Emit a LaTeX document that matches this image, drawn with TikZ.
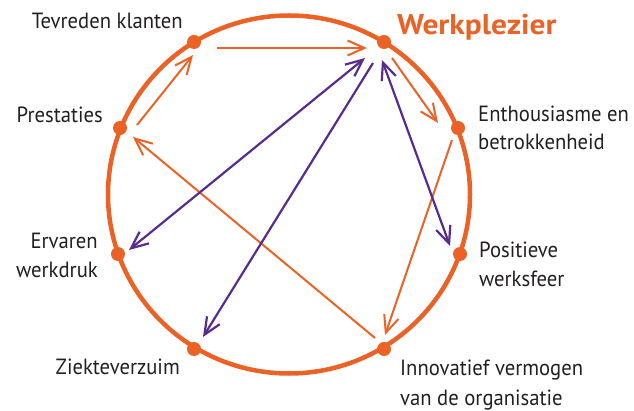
\documentclass[tikz,border=0pt]{standalone}
\usepackage{fontspec}
\setmainfont{PT Sans}[FakeStretch=0.94]
\newfontfamily\wpfont{PT Sans}[FakeStretch=1.1]
\usetikzlibrary{arrows.meta}
\definecolor{orng}{RGB}{234,98,37}
\definecolor{purp}{RGB}{88,44,140}
\definecolor{txt}{RGB}{35,31,32}
\begin{document}
\begin{tikzpicture}[x=1pt,y=-1pt,
  dot/.style={circle,fill=orng,inner sep=0pt,minimum size=14pt},
  lbl/.style={text=txt,font=\fontsize{22}{29.5}\selectfont,inner sep=0pt},
  tipa/.tip={Straight Barb[length=17pt,width=15pt]},
  oarr/.style={orng,line width=2pt,-tipa},
  parr/.style={purp,line width=2.2pt,-tipa},
  pboth/.style={purp,line width=2.2pt,tipa-tipa}
]
\useasboundingbox (0,0) rectangle (634,411);
\draw[orng,line width=4.5pt] (289,194.5) ellipse [x radius=181, y radius=179];
\node[dot] (wp)  at (384,42) {};
\node[dot] (tev) at (194,42) {};
\node[dot] (pre) at (120,128) {};
\node[dot] (ent) at (458,128) {};
\node[dot] (erv) at (118,254) {};
\node[dot] (pos) at (460,254) {};
\node[dot] (zie) at (194,349) {};
\node[dot] (inn) at (384,349) {};

\node[lbl,anchor=base east] (ltev) at (183,29) {Tevreden klanten};
\node[anchor=base west,inner sep=0pt,text=orng,font=\wpfont\fontsize{28.5}{30}\selectfont\bfseries] (lwp) at (397,35) {Werkplezier};
\node[lbl,anchor=base east] (lpre) at (103,123) {Prestaties};
\node[lbl,anchor=base west,align=left,font=\fontsize{22}{28.5}\selectfont] (lent) at (478,150) {Enthousiasme en\\betrokkenheid};
\node[lbl,anchor=base east,align=right] (lerv) at (98,278) {Ervaren\\werkdruk};
\node[lbl,anchor=base west,align=left] (lpos) at (479,287) {Positieve\\werksfeer};
\node[lbl,anchor=base east] (lzie) at (180,374) {Ziekteverzuim};
\node[lbl,anchor=base west,align=left] (linn) at (400,405) {Innovatief vermogen\\van de organisatie};

\draw[oarr] ([shift={(23,6)}]tev.center) -- ([shift={(-17,6)}]wp.center);
\draw[oarr] ([shift={(17,-3)}]pre.center) -- ([shift={(-1,13)}]tev.center);
\draw[oarr] ([shift={(8,16)}]wp.center) -- ([shift={(-20,-5)}]ent.center);
\draw[oarr] ([shift={(-6,12)}]ent.center) -- ([shift={(1,-14)}]inn.center);
\draw[oarr] ([shift={(-9,-11)}]inn.center) -- ([shift={(13,9)}]pre.center);
\draw[pboth] ([shift={(11,-4)}]erv.center) -- ([shift={(-19,16)}]wp.center);
\draw[parr] ([shift={(-11,21)}]wp.center) -- ([shift={(9,-12)}]zie.center);
\draw[pboth] ([shift={(-2,18)}]wp.center) -- ([shift={(-10,-8)}]pos.center);
\end{tikzpicture}
\end{document}
